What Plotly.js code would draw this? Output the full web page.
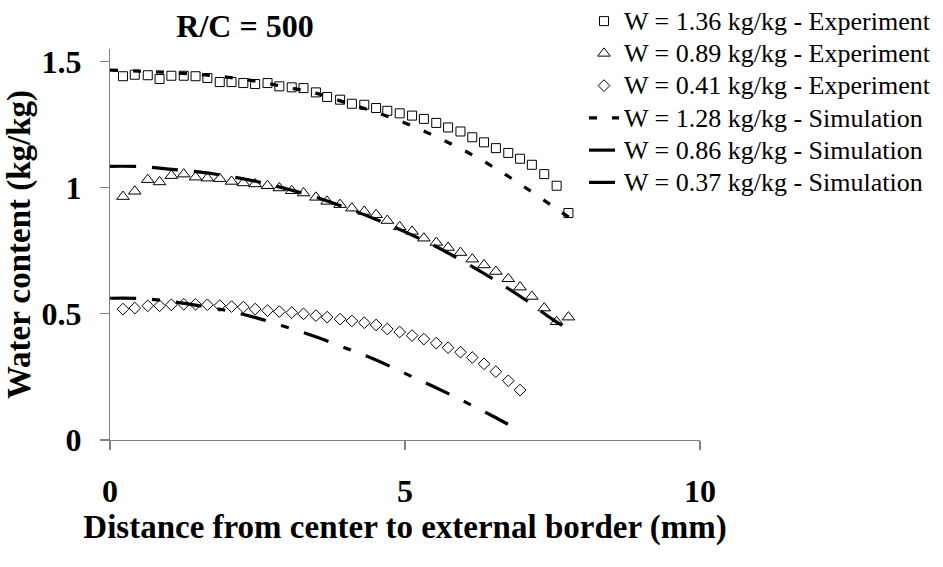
<!DOCTYPE html>
<html>
<head>
<meta charset="utf-8">
<script src="https://cdn.plot.ly/plotly-3.0.1.min.js"></script>
<style>html,body{margin:0;padding:0;background:#fff;}#chart{width:943px;height:567px;}</style>
</head>
<body>
<div id="chart"></div>
<script>
// Experiment positions (mm)
var xExp136 = [0.22,0.42,0.64,0.84,1.04,1.25,1.45,1.65,1.86,2.06,2.26,2.46,2.67,2.87,3.08,3.28,3.49,3.68,3.90,4.10,4.31,4.51,4.70,4.91,5.12,5.32,5.53,5.73,5.94,6.14,6.34,6.54,6.75,6.95,7.15,7.36,7.57,7.77];
var yExp136 = [1.442,1.448,1.446,1.431,1.444,1.444,1.442,1.435,1.419,1.419,1.415,1.411,1.415,1.402,1.398,1.395,1.378,1.360,1.349,1.333,1.329,1.316,1.305,1.295,1.286,1.273,1.257,1.239,1.223,1.200,1.180,1.157,1.138,1.115,1.091,1.054,1.008,0.900];

var xExp089 = [0.22,0.42,0.64,0.84,1.04,1.25,1.45,1.65,1.86,2.06,2.26,2.46,2.67,2.87,3.08,3.28,3.49,3.68,3.90,4.10,4.31,4.51,4.70,4.91,5.12,5.32,5.53,5.73,5.94,6.14,6.34,6.54,6.75,6.95,7.15,7.36,7.57,7.77];
var yExp089 = [0.965,0.986,1.032,1.023,1.048,1.054,1.042,1.038,1.036,1.025,1.019,1.015,1.008,0.999,0.988,0.979,0.962,0.946,0.933,0.919,0.906,0.893,0.870,0.845,0.827,0.800,0.783,0.763,0.743,0.717,0.694,0.668,0.639,0.606,0.569,0.523,0.469,0.487];

var xExp041 = [0.22,0.42,0.64,0.84,1.04,1.25,1.45,1.65,1.86,2.06,2.26,2.46,2.67,2.87,3.08,3.28,3.49,3.68,3.90,4.10,4.31,4.51,4.70,4.91,5.12,5.32,5.53,5.73,5.94,6.14,6.34,6.54,6.75,6.95];
var yExp041 = [0.519,0.523,0.532,0.532,0.536,0.538,0.538,0.536,0.533,0.529,0.527,0.519,0.513,0.509,0.505,0.500,0.493,0.487,0.479,0.472,0.465,0.456,0.440,0.428,0.414,0.400,0.384,0.366,0.348,0.327,0.302,0.271,0.235,0.198];

// Simulations
var xSim128 = [0,0.5,1,1.5,2,2.5,3,3.5,4,4.5,5,5.5,6,6.5,7,7.5,7.8];
var ySim128 = [1.466,1.462,1.457,1.449,1.438,1.421,1.398,1.374,1.337,1.300,1.257,1.205,1.148,1.082,1.007,0.927,0.880];

var xSim086 = [0,0.5,1,1.5,2,2.5,3,3.5,4,4.5,5,5.5,6,6.5,7,7.5,7.8];
var ySim086 = [1.085,1.084,1.074,1.063,1.046,1.024,0.995,0.962,0.921,0.875,0.825,0.770,0.706,0.637,0.562,0.478,0.435];

var xSim037 = [0,0.5,1,1.5,2,2.5,3,3.5,4,4.5,5,5.5,6,6.5,6.78];
var ySim037 = [0.562,0.561,0.550,0.533,0.512,0.483,0.447,0.408,0.364,0.318,0.264,0.210,0.153,0.093,0.058];

var seriesNames = [
  'W = 1.36 kg/kg - Experiment',
  'W = 0.89 kg/kg - Experiment',
  'W = 0.41 kg/kg - Experiment',
  'W = 1.28 kg/kg - Simulation',
  'W = 0.86 kg/kg - Simulation',
  'W = 0.37 kg/kg - Simulation'
];
var xTicks = [0,5,10];
var yTicks = [0,0.5,1,1.5];
var yTickText = ['0','0.5','1','1.5'];

var serif = 'Liberation Serif';

function legendLabel(name) {
  return '<span style="font-size:26px">' + name + '</span>';
}
function expTrace(x, y, name, symbol, size) {
  return {x: x, y: y, name: legendLabel(name), type: 'scatter', mode: 'markers',
    marker: {symbol: symbol, size: size, color: '#000', line: {color: '#000', width: 1}}};
}
function simTrace(x, y, name, dash) {
  return {x: x, y: y, name: legendLabel(name), type: 'scatter', mode: 'lines',
    line: {color: '#000', width: 3.2, dash: dash, shape: 'spline'}};
}

var data = [
  expTrace(xExp136, yExp136, seriesNames[0], 'square-open', 9),
  expTrace(xExp089, yExp089, seriesNames[1], 'triangle-up-open', 11),
  expTrace(xExp041, yExp041, seriesNames[2], 'diamond-open', 9),
  simTrace(xSim128, ySim128, seriesNames[3], '8px,15px'),
  simTrace(xSim086, ySim086, seriesNames[4], '26px,16px'),
  simTrace(xSim037, ySim037, seriesNames[5], '26px,16px,8px,16px')
];

var axisCommon = {
  showgrid: false, zeroline: false, showline: true,
  linecolor: '#808080', linewidth: 1.2,
  ticks: 'outside', ticklen: 9, tickwidth: 1.2, tickcolor: '#808080',
  tickfont: {family: serif, size: 32, color: '#000', weight: 'bold'}
};

var layout = {
  width: 943, height: 567,
  paper_bgcolor: '#fff', plot_bgcolor: '#fff',
  margin: {l: 110, r: 243, t: 49, b: 127, pad: 0, autoexpand: false},
  title: {text: '<b>R/C = 500</b>', xref: 'container', yref: 'container',
    x: 245/943, xanchor: 'center', y: 1 - 26/567, yanchor: 'middle',
    font: {family: serif, size: 32, color: '#000'}},
  xaxis: Object.assign({}, axisCommon, {
    range: [0, 10], tickvals: xTicks, ticktext: xTicks.map(String),
    ticklabelstandoff: 13,
    title: {text: '<b>Distance from center to external border (mm)</b>', standoff: 0,
      font: {family: serif, size: 33, color: '#000'}}
  }),
  yaxis: Object.assign({}, axisCommon, {
    range: [0, 1.55], tickvals: yTicks, ticktext: yTickText,
    ticklabelstandoff: 12,
    title: {text: '<b>Water content (kg/kg)</b>', standoff: 0,
      font: {family: serif, size: 33, color: '#000'}}
  }),
  showlegend: true,
  legend: {x: 584/943, xref: 'container', xanchor: 'left', y: 1 + 14/567, yref: 'container', yanchor: 'top',
    bgcolor: 'rgba(0,0,0,0)', borderwidth: 0,
    font: {family: serif, size: 22.5, color: '#000'}, tracegroupgap: 0, itemwidth: 30}
};

Plotly.newPlot('chart', data, layout, {displayModeBar: false, staticPlot: true});
</script>
</body>
</html>
